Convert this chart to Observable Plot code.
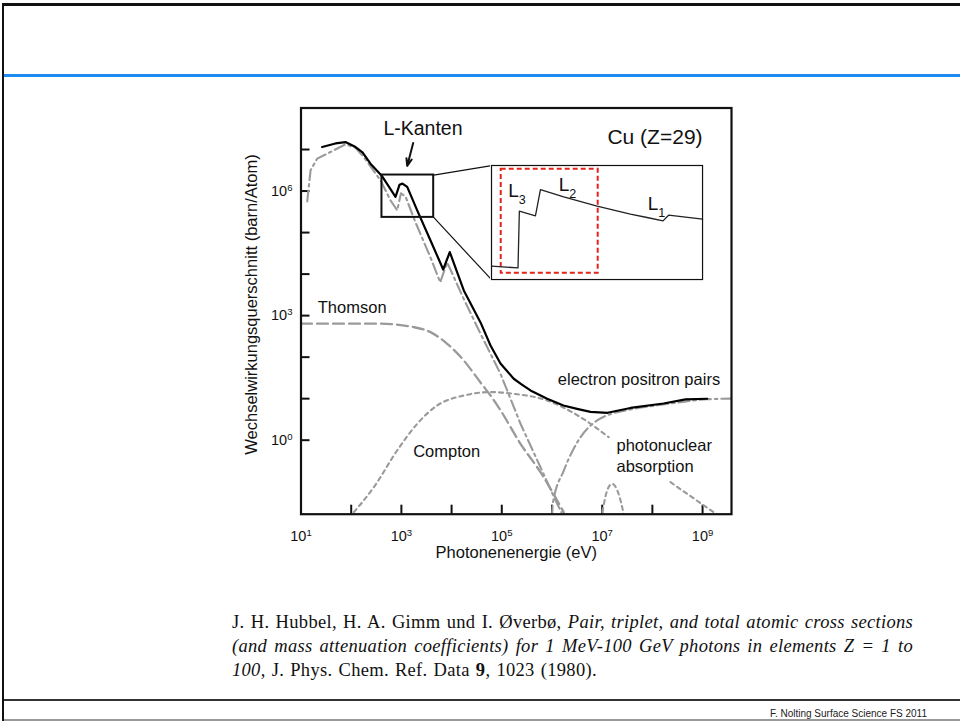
<!DOCTYPE html>
<html>
<head>
<meta charset="utf-8">
<script src="https://cdn.jsdelivr.net/npm/d3@7"></script>
<script src="https://cdn.jsdelivr.net/npm/@observablehq/plot@0.6"></script>
<style>
  html, body { margin: 0; padding: 0; background: #fff; }
  #slide { position: relative; width: 960px; height: 721px; overflow: hidden; background: #fff; }
  .edge-top { position: absolute; left: 2px; top: 3px; width: 958px; height: 3px; background: #111; }
  .edge-left { position: absolute; left: 2px; top: 3px; width: 2px; height: 718px; background: #111; }
  .title-rule { position: absolute; left: 4px; top: 74px; width: 956px; height: 3px; background: #1c8cf2; }
  .foot-rule { position: absolute; left: 4px; top: 699px; width: 956px; height: 2px; background: #333; }
  .bottom-edge { position: absolute; left: 4px; top: 719px; width: 956px; height: 2px; background: #9a9a9a; }
  #chart { position: absolute; left: 0; top: 0; }
  #inset { position: absolute; }
  .ref { position: absolute; left: 232px; top: 610px; width: 681px;
         font-family: "Liberation Serif", "Times New Roman", serif; font-size: 18.5px;
         line-height: 24px; color: #111; letter-spacing: 0.3px; }
  .ref .j { text-align: justify; text-align-last: justify; white-space: nowrap; }
  .ref .last { word-spacing: 1.2px; }
  .footer { position: absolute; right: 33px; top: 708px; line-height: 11px;
            font-family: "Liberation Sans Narrow", "Liberation Sans", Arial, sans-serif;
            font-size: 10px; color: #222; }
</style>
</head>
<body>
<div id="slide">
  <div class="edge-top"></div>
  <div class="edge-left"></div>
  <div class="title-rule"></div>
  <div id="chart"></div>
  <div id="inset"></div>
  <div class="ref">
    <div class="j">J. H. Hubbel, H. A. Gimm und I. Øverbø, <i>Pair, triplet, and total atomic cross sections</i></div>
    <div class="j"><i>(and mass attenuation coefficients) for 1 MeV-100 GeV photons in elements Z = 1 to</i></div>
    <div class="last"><i>100</i>, J. Phys. Chem. Ref. Data <b>9</b>, 1023 (1980).</div>
  </div>
  <div class="foot-rule"></div>
  <div class="bottom-edge"></div>
  <div class="footer">F. Nolting Surface Science FS 2011</div>
</div>
<script>
// Cu (Z=29): photon interaction cross sections, energy in eV, cross section in barn/atom
const xDomain = [1e1, 3.77e9];
const yDomain = [1.65e-2, 1e8];

const xTickValues = [1e2, 1e3, 1e4, 1e5, 1e6, 1e7, 1e8, 1e9];
const xLabelValues = [1e1, 1e3, 1e5, 1e7, 1e9];
const yTickValues = [1e0, 1e1, 1e2, 1e3, 1e4, 1e5, 1e6, 1e7];
const yLabelValues = [1e0, 1e3, 1e6];

// total cross section
const total = [
  [26.4, 1.148e7], [48.6, 1.40e7], [76.9, 1.514e7], [122, 1.148e7], [168, 8.51e6],
  [242, 4.57e6], [414, 2.26e6], [764, 7.24e5], [916, 1.41e6], [1052, 1.51e6],
  [1306, 1.26e6], [2065, 3.43e5], [3802, 6.46e4], [6808, 1.29e4], [9204, 3.39e4],
  [1.75e4, 4046], [3.77e4, 686], [5.96e4, 191], [9.42e4, 70.5], [1.27e5, 46.5],
  [1.73e5, 30.2], [2.51e5, 21.9], [3.73e5, 15.8], [8.02e5, 9.95], [1.69e6, 6.85],
  [3.16e6, 5.68], [5.85e6, 4.79], [1.28e7, 4.57], [3.66e7, 5.97], [1.67e8, 7.66],
  [4.57e8, 9.57], [1.24e9, 9.95]
];

// photoelectric absorption
const photo = [
  [13.3, 5.62e5], [15.5, 3.16e6], [21.0, 6.03e6], [38.7, 8.71e6], [76.9, 1.33e7],
  [122, 1.10e7], [178, 6.61e6], [384, 1.81e6], [607, 5.97e5], [824, 3.43e5],
  [982, 8.81e5], [1208, 7.41e5], [1910, 1.76e5], [3802, 2.51e4], [5930, 6310],
  [8166, 1.91e4], [1.75e4, 2510], [3.77e4, 366], [9.42e4, 39.8], [2.36e5, 2.48],
  [5.90e5, 0.223], [1.27e6, 0.0293], [1.60e6, 0.0169]
];

// coherent (Thomson / Rayleigh) scattering
const thomson = [
  [10, 638], [384, 638], [1766, 528], [3802, 400], [8166, 210], [1.75e4, 83],
  [3.77e4, 24.5], [5.96e4, 11.9], [9.42e4, 5.25], [2.36e5, 0.82], [5.90e5, 0.169],
  [1.72e6, 0.0184]
];

// incoherent (Compton) scattering, drawn in two pieces around the label
const comptonLow = [
  [89, 0.0133], [282, 0.0736], [824, 0.565], [2065, 2.48], [5164, 6.85],
  [1.75e4, 11.9], [5.96e4, 14.4], [1.73e5, 13.1], [8.02e5, 9.06], [3.70e6, 3.58],
  [1.35e7, 1.18]
];
const comptonHigh = [[2.30e8, 0.0973], [4.93e8, 0.0511], [1.67e9, 0.0184]];

// electron-positron pair production
const pairs = [
  [1.0e6, 0.0141], [1.047e6, 0.0316], [1.72e6, 0.186], [3.70e6, 1.18], [7.94e6, 2.99],
  [1.70e7, 4.48], [3.66e7, 5.50], [1.66e8, 7.24], [1.23e9, 9.66], [3.77e9, 10.0]
];

// photonuclear absorption (giant dipole resonance)
const photonuclear = [
  [9.5e6, 0.012], [1.26e7, 0.062], [1.58e7, 0.089], [2.0e7, 0.062], [2.85e7, 0.012]
];

const annotations = [
  {text: "Thomson", E: 21.6, s: 1148, anchor: "start", size: 16.5},
  {text: "Compton", E: 1718, s: 0.389, anchor: "start", size: 16.5},
  {text: "electron positron pairs", E: 1.306e6, s: 20.8, anchor: "start", size: 16.5},
  {text: "photonuclear\nabsorption", E: 1.93e7, s: 0.169, anchor: "start", size: 16.5},
  {text: "L-Kanten", E: 2692, s: 2.2e7, anchor: "middle", size: 19.5},
  {text: "Cu (Z=29)", E: 1e9, s: 1.33e7, anchor: "end", size: 21}
];

const kantenArrow = [{x1: 1718, y1: 1.44e7, x2: 1306, y2: 4.0e6}];

// region around the L edges and the panel that magnifies it (main-plot units)
const zoomBox = {x1: 410, x2: 4400, y1: 2.32e5, y2: 2.43e6};
const insetPanel = {x1: 6.24e4, x2: 1.0e9, y1: 7.33e3, y2: 4.09e6};
const connectors = [
  {x1: zoomBox.x2, y1: zoomBox.y2, x2: insetPanel.x1, y2: insetPanel.y2},
  {x1: zoomBox.x2, y1: zoomBox.y1, x2: insetPanel.x1, y2: insetPanel.y1}
];

// magnified L-edge trace (eV, relative cross section)
const insetEnergy = [903, 1138];
const edgeTrace = [
  [903, 11.7], [932.5, 10.2], [934, 59.9], [951.9, 55.8], [957.5, 78.9],
  [983.4, 72.5], [1020.6, 64.3], [1057.6, 57.3], [1076.2, 54.4], [1094.0, 51.4],
  [1100.2, 56.4], [1138, 52.9]
];
const edgeLabels = [
  {text: "L_3", E: 921.6, s: 72.5},
  {text: "L_2", E: 977.9, s: 77.7},
  {text: "L_1", E: 1076.9, s: 60.8}
];
const l3l2Box = {x1: 913.8, x2: 1021.8, y1: 5.5, y2: 96.8};

const W = 960, H = 600;
const mLeft = 300.5, mRight = 229, mTop = 107.5, mBottom = 86.3;
const frameW = W - mLeft - mRight, frameH = H - mTop - mBottom;
const tickLen = 9;
const gray = "#9a9a9a";
const fmtPow = d => `10^${Math.round(Math.log10(d))}`;
const X = d => d[0], Y = d => d[1];

const chart = Plot.plot({
  width: W, height: H,
  marginLeft: mLeft, marginRight: mRight, marginTop: mTop, marginBottom: mBottom,
  x: {type: "log", domain: xDomain, axis: null},
  y: {type: "log", domain: yDomain, axis: null},
  style: {fontFamily: "'Liberation Sans', Arial, sans-serif", color: "#111", background: "transparent", overflow: "visible"},
  marks: [
    // inward ticks
    Plot.ruleX(xTickValues, {x: d => d, stroke: "#111", strokeWidth: 2, insetTop: frameH - tickLen}),
    Plot.ruleY(yTickValues, {y: d => d, stroke: "#111", strokeWidth: 2, insetRight: frameW - tickLen}),
    // partial cross sections
    Plot.line(thomson, {x: X, y: Y, curve: "monotone-x", stroke: gray, strokeWidth: 2.3, strokeDasharray: "11,5", clip: true}),
    Plot.line(comptonLow, {x: X, y: Y, curve: "monotone-x", stroke: gray, strokeWidth: 2.1, strokeDasharray: "4,4", clip: true}),
    Plot.line(comptonHigh, {x: X, y: Y, curve: "monotone-x", stroke: gray, strokeWidth: 2.1, strokeDasharray: "4,4", clip: true}),
    Plot.line(photonuclear, {x: X, y: Y, curve: "monotone-x", stroke: gray, strokeWidth: 2.1, strokeDasharray: "4,4", clip: true}),
    Plot.line(pairs, {x: X, y: Y, curve: "monotone-x", stroke: gray, strokeWidth: 2.1, strokeDasharray: "11,4,2.5,4", clip: true}),
    Plot.line(photo, {x: X, y: Y, stroke: gray, strokeWidth: 2.1, strokeDasharray: "11,4,2.5,4", clip: true}),
    // total
    Plot.line(total, {x: X, y: Y, stroke: "#000", strokeWidth: 2.2, strokeLinejoin: "round", clip: true}),
    // L-edge magnifier
    Plot.rect([zoomBox], {x1: "x1", x2: "x2", y1: "y1", y2: "y2", fill: "none", stroke: "#111", strokeWidth: 2}),
    Plot.link(connectors, {x1: "x1", y1: "y1", x2: "x2", y2: "y2", stroke: "#111", strokeWidth: 1.2}),
    Plot.arrow(kantenArrow, {x1: "x1", y1: "y1", x2: "x2", y2: "y2", stroke: "#111", strokeWidth: 2, headLength: 9, headAngle: 40}),
    // annotations
    ...annotations.map(a => Plot.text([a], {
      x: "E", y: "s", text: "text", textAnchor: a.anchor, lineAnchor: "bottom",
      lineHeight: 1.27, fontSize: a.size, fill: "#111"
    })),
    // tick labels
    Plot.text(xLabelValues, {x: d => d, text: fmtPow, frameAnchor: "bottom", dy: 26.3, lineAnchor: "bottom", textAnchor: "middle", fontSize: 14.5, fill: "#111"}),
    Plot.text(yLabelValues, {y: d => d, text: fmtPow, frameAnchor: "left", dx: -8.5, textAnchor: "end", lineAnchor: "middle", fontSize: 14.5, fill: "#111"}),
    // axis titles
    Plot.text(["Photonenenergie (eV)"], {frameAnchor: "bottom", dy: 43.3, lineAnchor: "bottom", textAnchor: "middle", fontSize: 16.5, fill: "#111"}),
    Plot.text(["Wechselwirkungsquerschnitt (barn/Atom)"], {frameAnchor: "left", rotate: -90, dx: -49.5, dy: -6.6, textAnchor: "middle", lineAnchor: "middle", fontSize: 16.5, fill: "#111"}),
    Plot.frame({stroke: "#111", strokeWidth: 2.2})
  ]
});

// turn "a^b" / "a_b" labels into raised or lowered scripts
function setScripts(svg) {
  svg.querySelectorAll("text").forEach(t => {
    if (t.children.length) return;
    const m = /^([^^_]*)([\^_])(.+)$/.exec(t.textContent);
    if (!m) return;
    t.textContent = m[1];
    const ts = document.createElementNS("http://www.w3.org/2000/svg", "tspan");
    ts.textContent = m[3];
    ts.setAttribute("font-size", "0.66em");
    ts.setAttribute("dy", m[2] === "^" ? "-0.5em" : "0.55em");
    t.appendChild(ts);
  });
}
setScripts(chart);
document.getElementById("chart").appendChild(chart);

// place the magnified panel on the main plot's coordinates
const sx = chart.scale("x"), sy = chart.scale("y");
const pLeft = sx.apply(insetPanel.x1), pRight = sx.apply(insetPanel.x2);
const pTop = sy.apply(insetPanel.y2), pBottom = sy.apply(insetPanel.y1);
const iw = pRight - pLeft, ih = pBottom - pTop;

const inset = Plot.plot({
  width: iw + 2, height: ih + 2, margin: 1,
  x: {domain: insetEnergy, axis: null},
  y: {domain: [0, 100], axis: null},
  style: {fontFamily: "'Liberation Sans', Arial, sans-serif", color: "#111", background: "#fff", overflow: "visible"},
  marks: [
    Plot.rect([l3l2Box], {x1: "x1", x2: "x2", y1: "y1", y2: "y2", fill: "none", stroke: "#e5231b", strokeWidth: 2, strokeDasharray: "5,3"}),
    Plot.line(edgeTrace, {x: X, y: Y, stroke: "#222", strokeWidth: 1.3}),
    Plot.text(edgeLabels, {x: "E", y: "s", text: "text", textAnchor: "start", lineAnchor: "bottom", fontSize: 19, fill: "#111"}),
    Plot.frame({stroke: "#111", strokeWidth: 1.2})
  ]
});
setScripts(inset);
const insetBox = document.getElementById("inset");
insetBox.style.left = (pLeft - 1) + "px";
insetBox.style.top = (pTop - 1) + "px";
insetBox.appendChild(inset);
</script>
</body>
</html>
